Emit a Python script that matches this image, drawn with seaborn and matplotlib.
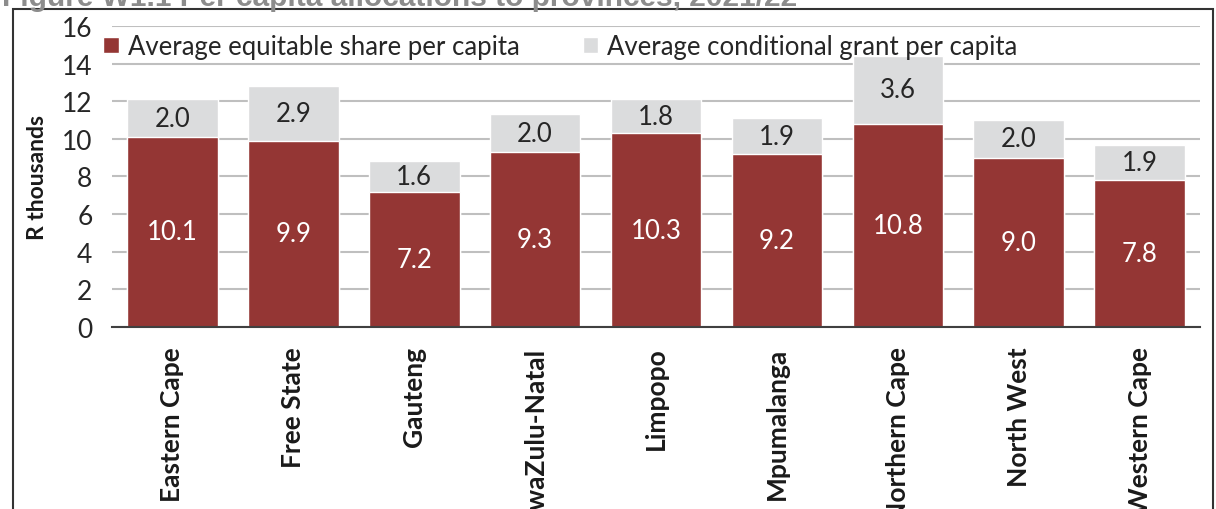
import numpy as np
import pandas as pd
import seaborn as sns
import matplotlib.pyplot as plt
from matplotlib.patches import Patch, Rectangle

provinces = ['Eastern Cape', 'Free State', 'Gauteng', 'KwaZulu-Natal', 'Limpopo',
             'Mpumalanga', 'Northern Cape', 'North West', 'Western Cape']
equitable = [10.1, 9.9, 7.2, 9.3, 10.3, 9.2, 10.8, 9.0, 7.8]
conditional = [2.0, 2.9, 1.6, 2.0, 1.8, 1.9, 3.6, 2.0, 1.9]

red = '#943634'
grey = '#DBDCDD'

sns.set_theme(style='white')
plt.rcParams['font.family'] = ['Lato', 'DejaVu Sans']

df = pd.DataFrame({'province': provinces, 'equitable': equitable, 'conditional': conditional})
df['total'] = df['equitable'] + df['conditional']

fig = plt.figure(figsize=(12.16, 5.10), dpi=100)
ax = fig.add_axes([0.092, 0.357, 0.895, 0.590])

# grey totals first, red equitable share drawn over them
sns.barplot(data=df, x='province', y='total', color=grey, saturation=1, width=0.75, ax=ax)
n = len(ax.patches)
sns.barplot(data=df, x='province', y='equitable', color=red, saturation=1, width=0.75, ax=ax)
red_bars = ax.patches[n:]

for b, e, c in zip(red_bars, equitable, conditional):
    cx = b.get_x() + b.get_width() / 2
    ax.text(cx, e / 2, f'{e:.1f}', ha='center', va='center', color='white', fontsize=18.5)
    ax.text(cx, e + c / 2, f'{c:.1f}', ha='center', va='center', color='#262626', fontsize=18.5)

ax.set_ylim(0, 16)
ax.set_yticks(np.arange(0, 17, 2))
ax.set_xlim(-0.5, len(provinces) - 0.5)
ax.yaxis.grid(True, color='#BFBFBF', linewidth=1.5)
ax.set_axisbelow(True)
for s in ['top', 'right', 'left']:
    ax.spines[s].set_visible(False)
ax.spines['bottom'].set_color('#404040')
ax.spines['bottom'].set_linewidth(1.5)

ax.tick_params(axis='y', length=0, labelsize=19, pad=14, labelcolor='#262626')
ax.tick_params(axis='x', length=0, labelsize=19, pad=14, labelcolor='#1a1a1a')
ax.set_xticks(range(len(provinces)))
ax.set_xticklabels(provinces, rotation=90, fontweight='bold', va='top', ha='center')
ax.set_xlabel('')
ax.set_ylabel('R thousands', fontsize=16.5, fontweight='bold', color='#1a1a1a', labelpad=10)

handles = [Patch(facecolor=red, label='Average equitable share per capita'),
           Patch(facecolor=grey, label='Average conditional grant per capita')]
ax.legend(handles=handles, loc='upper left', bbox_to_anchor=(-0.022, 1.025), ncol=2,
          frameon=False, fontsize=18.5, handlelength=0.6, handleheight=0.6,
          handletextpad=0.35, columnspacing=2.46, borderaxespad=0.2)

# frame around the figure and cut-off title
fig.patches.append(Rectangle((13 / 1216, -0.2), 1200 / 1216, 1.2 - 10 / 510,
                             transform=fig.transFigure, fill=False,
                             edgecolor='#333333', linewidth=1.5))
fig.text(2 / 1216, 1 - 6 / 510, 'Figure W1.1 Per capita allocations to provinces, 2021/22',
         fontsize=21.5, fontweight='bold', color='#8c8c8c', va='baseline', ha='left',
         family=['Liberation Sans', 'DejaVu Sans'])

fig.savefig('out.png', dpi=100)
